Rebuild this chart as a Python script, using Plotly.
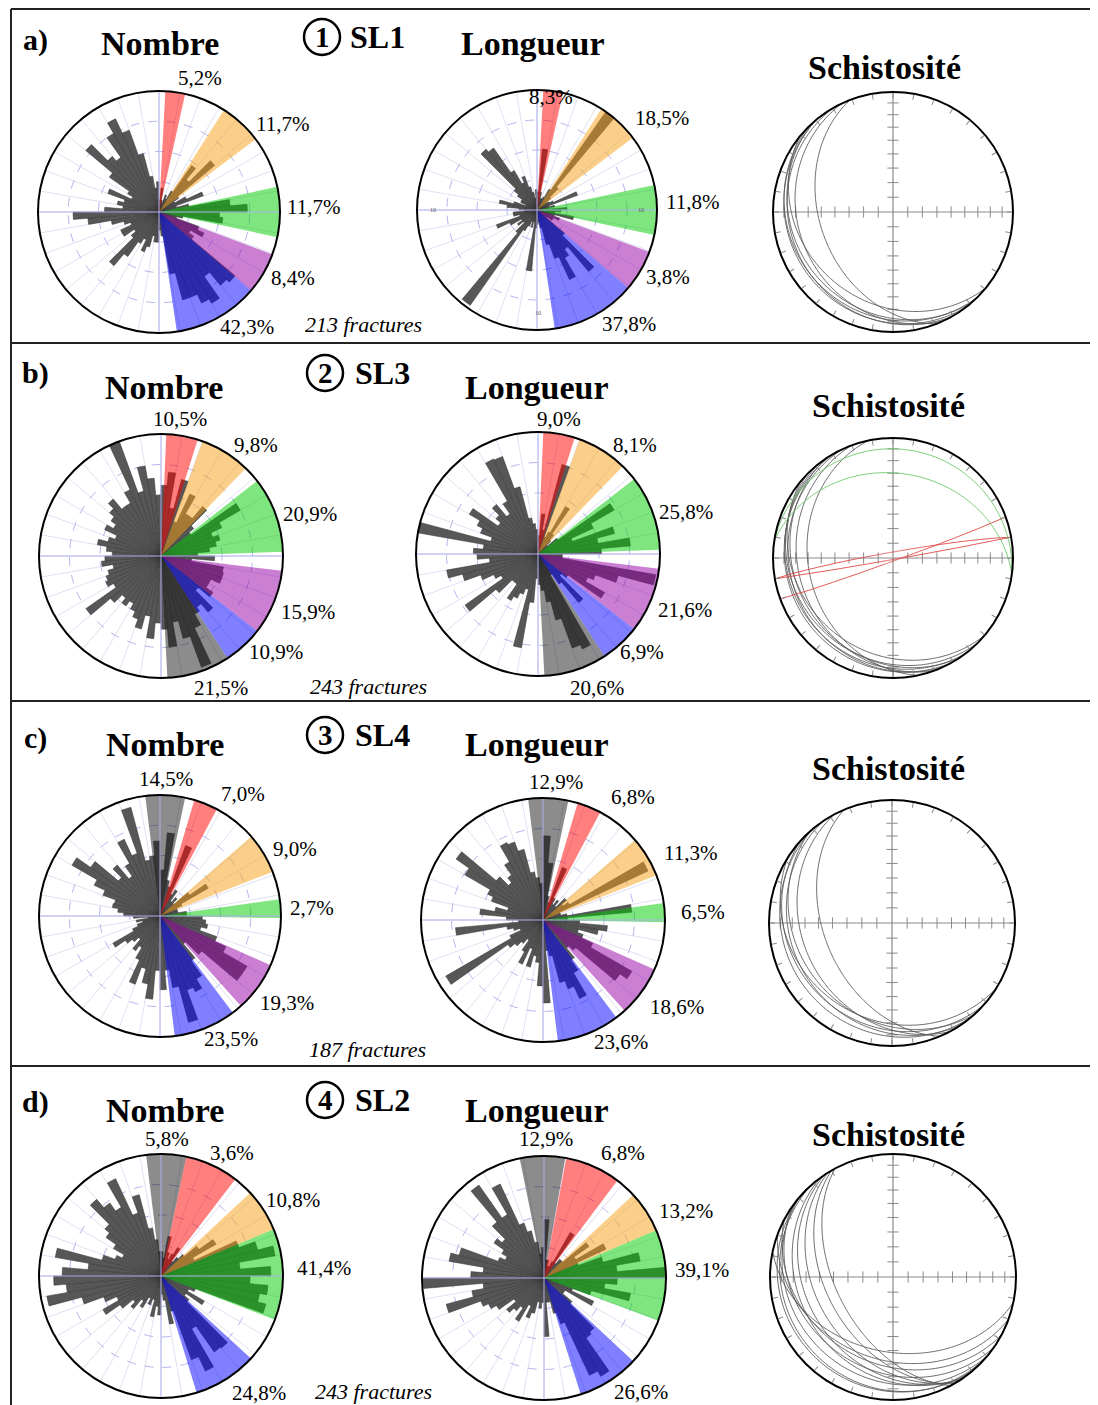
import math
import plotly.graph_objects as go

# page is 1098x1405; the html body adds an 8 px margin, so the figure is 8 px smaller
# and every page position below is shifted by that margin
PAGE_OFF = 8
W, H = 1098 - PAGE_OFF, 1405 - PAGE_OFF
SERIF = "Liberation Serif"

# ---------------- rose diagram data (5 degree bins, value in ring units, max 10) -------------
BIN_CENTERS = [2.5 + 5 * i for i in range(72)]
RMAX = 10

A_NOMBRE = [
    1.0, 2.0, 1.0, 0.8, 1.5, 1.2, 2.0, 4.7,
    3.5, 6.0, 2.0, 1.5, 2.5, 3.9, 1.5, 2.5,
    5.9, 7.3, 5.0, 5.3, 2.0, 1.5, 3.5, 4.1,
    3.0, 3.5, 8.2, 7.9, 6.5, 8.7, 8.3, 7.5,
    7.5, 5.2, 2.0, 1.5, 2.5, 2.5, 2.0, 3.0,
    3.5, 2.5, 3.0, 4.5, 5.8, 3.0, 2.5, 3.5,
    3.5, 2.5, 3.0, 4.0, 5.9, 7.1, 4.5, 3.0,
    3.5, 3.0, 4.5, 2.5, 3.0, 5.0, 7.9, 6.0,
    5.5, 7.5, 8.5, 7.2, 5.0, 3.0, 2.0, 2.5,
]
A_LONGUEUR = [
    1.5, 5.1, 1.5, 1.0, 1.0, 1.2, 2.0, 10.0,
    2.5, 1.5, 1.0, 1.2, 1.5, 3.6, 1.0, 1.5,
    1.0, 2.5, 2.0, 1.5, 3.1, 1.5, 2.0, 1.5,
    1.5, 1.0, 3.0, 6.7, 4.0, 4.6, 6.4, 4.3,
    3.0, 1.5, 1.0, 1.2, 1.5, 5.1, 1.0, 1.5,
    1.0, 1.5, 2.0, 9.7, 2.5, 1.5, 2.0, 1.5,
    2.5, 3.6, 1.5, 2.0, 2.0, 1.0, 1.5, 2.5,
    3.2, 2.0, 1.0, 1.5, 1.5, 2.0, 2.5, 6.6,
    6.3, 3.8, 2.5, 3.0, 2.0, 1.5, 1.0, 1.7,
]
B_NOMBRE = [
    5.8, 6.9, 4.0, 6.5, 3.0, 5.6, 4.0, 4.0,
    5.3, 3.5, 3.0, 7.5, 5.5, 4.5, 5.0, 4.6,
    4.0, 3.0, 4.4, 2.5, 5.2, 5.3, 5.3, 4.5,
    4.5, 5.2, 4.0, 6.0, 5.1, 5.5, 6.5, 9.7,
    7.0, 5.5, 7.5, 6.0, 5.5, 6.8, 5.0, 6.2,
    5.5, 5.0, 4.5, 5.0, 4.5, 5.4, 7.5, 4.5,
    5.0, 4.8, 4.5, 4.0, 4.9, 4.6, 4.0, 4.5,
    5.3, 4.5, 4.0, 5.1, 4.5, 5.0, 5.5, 6.1,
    5.0, 5.0, 6.0, 10.0, 5.5, 7.5, 6.4, 5.0,
]
B_LONGUEUR = [
    1.5, 3.3, 2.0, 7.6, 1.5, 2.0, 4.5, 2.0,
    1.5, 1.0, 2.0, 7.2, 5.0, 3.0, 6.5, 5.0,
    7.6, 5.2, 2.0, 2.0, 9.8, 6.8, 5.0, 4.5,
    6.3, 3.0, 2.5, 5.2, 3.0, 2.0, 8.6, 8.2,
    5.6, 4.0, 3.0, 2.5, 2.0, 4.0, 7.8, 3.0,
    3.5, 4.0, 4.4, 3.0, 3.0, 4.5, 7.3, 3.5,
    4.0, 5.0, 6.4, 7.6, 4.0, 5.0, 5.3, 4.5,
    10.0, 4.0, 5.0, 5.5, 6.5, 4.0, 4.5, 5.3,
    4.0, 5.0, 8.6, 8.5, 5.7, 3.0, 2.5, 2.0,
]
C_NOMBRE = [
    3.8, 6.9, 3.0, 2.5, 6.2, 2.0, 2.5, 1.5,
    2.0, 1.5, 3.0, 4.6, 2.0, 1.5, 1.5, 1.5,
    2.2, 2.2, 3.5, 3.8, 4.0, 3.5, 5.0, 6.0,
    8.3, 8.3, 4.5, 3.0, 4.5, 6.0, 6.9, 6.5,
    9.1, 6.0, 4.5, 6.1, 4.5, 6.9, 5.7, 4.5,
    6.0, 4.0, 3.0, 3.5, 2.5, 3.0, 3.5, 4.5,
    2.5, 2.0, 1.5, 2.0, 1.0, 2.2, 3.0, 3.5,
    4.0, 3.9, 5.0, 6.0, 8.4, 7.0, 4.5, 5.5,
    4.0, 5.0, 7.0, 5.5, 9.3, 4.7, 5.0, 6.2,
]
C_LONGUEUR = [
    6.9, 4.7, 2.0, 1.5, 4.6, 2.0, 1.5, 2.0,
    1.5, 2.5, 2.0, 2.5, 9.5, 1.5, 1.5, 2.0,
    7.3, 2.0, 3.0, 5.3, 4.6, 3.0, 3.5, 4.5,
    8.4, 7.7, 3.5, 3.0, 4.0, 5.0, 7.1, 6.0,
    5.3, 3.0, 2.5, 6.8, 5.4, 3.5, 3.0, 4.0,
    2.5, 4.0, 3.0, 2.0, 2.5, 3.0, 3.5, 9.2,
    3.0, 2.0, 2.5, 3.0, 7.2, 2.0, 3.0, 5.2,
    4.0, 3.0, 4.5, 5.0, 7.4, 8.7, 5.0, 4.0,
    4.5, 5.5, 7.0, 6.8, 6.0, 4.0, 3.5, 3.0,
]
D_NOMBRE = [
    2.0, 1.5, 3.3, 2.0, 1.5, 2.0, 2.7, 1.5,
    2.0, 2.5, 3.8, 5.2, 3.0, 6.8, 8.2, 9.5,
    6.5, 9.0, 7.3, 8.8, 8.2, 8.9, 3.0, 2.5,
    4.1, 2.5, 3.0, 7.7, 7.6, 5.0, 8.6, 7.3,
    3.0, 4.0, 2.0, 1.5, 3.2, 2.5, 3.4, 2.0,
    2.5, 2.0, 3.0, 2.5, 3.5, 3.0, 4.1, 5.5,
    4.0, 5.0, 6.7, 9.5, 7.8, 8.8, 8.1, 6.0,
    8.8, 5.0, 4.0, 3.5, 4.5, 5.5, 6.0, 8.2,
    7.3, 6.5, 8.8, 5.5, 6.9, 4.0, 3.0, 2.0,
]
D_LONGUEUR = [
    4.8, 1.5, 1.5, 1.0, 1.0, 1.5, 4.3, 1.5,
    2.0, 2.0, 4.5, 3.0, 5.6, 3.0, 5.0, 8.0,
    6.0, 10.0, 6.0, 5.0, 7.2, 4.0, 2.5, 4.5,
    2.0, 2.0, 3.0, 5.8, 6.0, 9.3, 8.8, 4.0,
    3.0, 2.0, 2.0, 4.8, 2.0, 2.5, 2.0, 3.0,
    3.5, 2.5, 4.1, 3.0, 3.5, 4.0, 3.0, 4.5,
    5.0, 5.5, 8.3, 6.0, 5.0, 9.9, 6.0, 5.0,
    7.9, 7.2, 4.0, 3.5, 4.0, 5.0, 4.5, 6.0,
    9.3, 6.0, 8.5, 4.8, 4.0, 3.0, 2.0, 2.5,
]

# ---------------- highlighted families (azimuth sectors) ----------------
A_SECT_START = [3, 32.5, 78, 110.5, 130.5]
A_SECT_END = [12.5, 53, 102, 130.5, 171.5]
A_SECT_KIND = ["red", "orange", "green", "purple", "blue"]
A_NOMBRE_PCT = ["5,2%", "11,7%", "11,7%", "8,4%", "42,3%"]
A_LONGUEUR_PCT = ["8,3%", "18,5%", "11,8%", "3,8%", "37,8%"]

B_SECT_START = [2.5, 20, 52, 97, 128, 147]
B_SECT_END = [17.5, 44, 88, 128, 147, 177]
B_SECT_KIND = ["red", "orange", "green", "purple", "blue", "gray"]
B_NOMBRE_PCT = ["10,5%", "9,8%", "20,9%", "15,9%", "10,9%", "21,5%"]
B_LONGUEUR_PCT = ["9,0%", "8,1%", "25,8%", "21,6%", "6,9%", "20,6%"]

C_SECT_START = [-7, 16.5, 49, 82, 114, 143]
C_SECT_END = [12, 28, 68.5, 91, 138, 173]
C_SECT_KIND = ["gray", "red", "orange", "green", "purple", "blue"]
C_NOMBRE_PCT = ["14,5%", "7,0%", "9,0%", "2,7%", "19,3%", "23,5%"]
C_LONGUEUR_PCT = ["12,9%", "6,8%", "11,3%", "6,5%", "18,6%", "23,6%"]

D_NOMBRE_SECT_START = [-7, 12, 47, 67.5, 132.5]
D_NOMBRE_SECT_END = [12, 37.5, 67.5, 111, 163]
D_LONGUEUR_SECT_START = [-11.5, 10.5, 47, 67, 133]
D_LONGUEUR_SECT_END = [10, 37, 67, 110.5, 162.5]
D_SECT_KIND = ["gray", "red", "orange", "green", "blue"]
D_NOMBRE_PCT = ["5,8%", "3,6%", "10,8%", "41,4%", "24,8%"]
D_LONGUEUR_PCT = ["12,9%", "6,8%", "13,2%", "39,1%", "26,6%"]

N_FRACTURES = ["213 fractures", "243 fractures", "187 fractures", "243 fractures"]
ROW_LETTERS = ["a)", "b)", "c)", "d)"]
SITE_NUMBERS = ["1", "2", "3", "4"]
SITE_NAMES = ["SL1", "SL3", "SL4", "SL2"]

# ---------------- schistosity planes (dip direction, dip) ----------------
A_SCH_DIPDIR = [249, 245, 240, 232, 225, 219, 228]
A_SCH_DIP = [39, 22, 15, 13, 15, 25, 18]
B_SCH_DIPDIR = [258, 250, 245, 240, 232, 225, 220, 236]
B_SCH_DIP = [30, 22, 15, 12, 14, 17, 22, 19]
B_GREEN_DIPDIR = [8, 8]
B_GREEN_DIP = [10, 30]
B_RED_DIPDIR = [160, 350, 170]
B_RED_DIP = [88, 86, 89]
C_SCH_DIPDIR = [247, 242, 236, 230, 222, 212, 228]
C_SCH_DIP = [44, 28, 19, 13, 18, 22, 24]
D_SCH_DIPDIR = [242, 240, 238, 236, 234, 228, 222, 192, 215, 208, 220, 200]
D_SCH_DIP = [52, 45, 37, 30, 25, 12, 10, 39, 25, 30, 18, 33]
# Schmidt-net graduation radii (10 deg steps)
NET_TICK_R = [0.123, 0.245, 0.366, 0.484, 0.598, 0.707, 0.811, 0.909]

# ---------------- styles ----------------
SECTOR_COLORS = {
    "red": "rgba(255,0,0,0.5)",
    "orange": "rgba(248,160,20,0.5)",
    "green": "rgba(0,205,0,0.5)",
    "purple": "rgba(150,0,165,0.5)",
    "blue": "rgba(0,0,255,0.5)",
    "gray": "rgba(25,25,25,0.5)",
}

fig = go.Figure()
polars = {}
annotations = []
shapes = []


def X(x):
    return (x - PAGE_OFF) / W


def Y(y):
    return 1 - (y - PAGE_OFF) / H


def pname(i):
    return "polar" if i == 1 else f"polar{i}"


def domain(cx, cy, R):
    return dict(x=[X(cx - R), X(cx + R)], y=[Y(cy + R), Y(cy - R)])


def txt(x, y, s, size, bold=False, italic=False, color="black"):
    if bold:
        s = f"<b>{s}</b>"
    if italic:
        s = f"<i>{s}</i>"
    annotations.append(dict(x=X(x), y=Y(y), xref="paper", yref="paper", text=s,
                            showarrow=False, xanchor="center", yanchor="middle",
                            font=dict(family=SERIF, size=size, color=color)))


def add_rose(idx, geom, bars, starts, ends, kinds, pcts, label_pos):
    name = pname(idx)
    cx, cy, R = geom
    polars[name] = dict(
        domain=domain(cx, cy, R), bgcolor="white", barmode="overlay", bargap=0,
        angularaxis=dict(rotation=90, direction="clockwise", tickmode="linear", tick0=0, dtick=10,
                         showticklabels=False, ticks="", showgrid=True, gridcolor="#e0e0f3",
                         gridwidth=1, showline=True, linecolor="black", linewidth=2),
        radialaxis=dict(range=[0, RMAX], tickvals=[2.5, 5, 7.5], showticklabels=False, ticks="",
                        showline=False, showgrid=True, gridcolor="#b6b6ee", griddash="dash",
                        gridwidth=1),
    )
    for th in ([0, 0, 180], [90, 90, 270]):
        fig.add_trace(go.Scatterpolar(r=[RMAX, 0, RMAX], theta=th, mode="lines",
                                      line=dict(color="#b4b4f0", width=1), subplot=name,
                                      showlegend=False, hoverinfo="skip"))
    fig.add_trace(go.Barpolar(r=bars, theta=BIN_CENTERS, width=[5] * len(bars), subplot=name,
                              marker=dict(color="#575757", line=dict(color="#333333", width=0.5)),
                              showlegend=False, hoverinfo="skip"))
    for a, b, k in zip(starts, ends, kinds):
        fig.add_trace(go.Barpolar(r=[RMAX], theta=[(a + b) / 2], width=[b - a], subplot=name,
                                  marker=dict(color=SECTOR_COLORS[k], line=dict(width=0)),
                                  showlegend=False, hoverinfo="skip"))
    for s, (x, y) in zip(pcts, label_pos):
        txt(x, y, s, 21)


def great_circle(dd, dip):
    th, rr = [], []
    for k in range(0, 181):
        t = dd - 90 + k
        p = math.degrees(math.atan(math.tan(math.radians(dip)) * math.cos(math.radians(t - dd))))
        rr.append(math.sqrt(2) * math.sin(math.radians((90 - p) / 2)))
        th.append(t)
    return th, rr


def add_stereo(idx, geom, families):
    name = pname(idx)
    cx, cy, R = geom
    polars[name] = dict(
        domain=domain(cx, cy, R), bgcolor="white",
        angularaxis=dict(rotation=90, direction="clockwise", tickmode="linear", tick0=0, dtick=10,
                         showticklabels=False, ticks="inside", ticklen=5, tickcolor="#8a8a8a",
                         tickwidth=1, showgrid=False, showline=True, linecolor="black", linewidth=2),
        radialaxis=dict(range=[0, 1], visible=False),
    )
    for th in ([0, 0, 180], [90, 90, 270]):
        fig.add_trace(go.Scatterpolar(r=[1, 0, 1], theta=th, mode="lines",
                                      line=dict(color="#8a8a8a", width=1.2), subplot=name,
                                      showlegend=False, hoverinfo="skip"))
    fig.add_trace(go.Scatterpolar(r=NET_TICK_R * 2, theta=[90] * 8 + [270] * 8, mode="markers",
                                  marker=dict(symbol="line-ns", size=8, line=dict(color="#8a8a8a", width=1)),
                                  subplot=name, showlegend=False, hoverinfo="skip"))
    fig.add_trace(go.Scatterpolar(r=NET_TICK_R * 2, theta=[0] * 8 + [180] * 8, mode="markers",
                                  marker=dict(symbol="line-ew", size=8, line=dict(color="#8a8a8a", width=1)),
                                  subplot=name, showlegend=False, hoverinfo="skip"))
    for dds, dips, col in families:
        for dd, dip in zip(dds, dips):
            th, rr = great_circle(dd, dip)
            fig.add_trace(go.Scatterpolar(r=rr, theta=th, mode="lines",
                                          line=dict(color=col, width=0.9), subplot=name,
                                          showlegend=False, hoverinfo="skip"))


GRAY_LINE = "#5a5a5a"

# ---------------- row a ----------------
add_rose(1, (159, 212, 121), A_NOMBRE, A_SECT_START, A_SECT_END, A_SECT_KIND, A_NOMBRE_PCT,
         [(200, 78), (282, 124), (313, 207), (293, 278), (247, 327)])
add_rose(2, (537, 210, 120), A_LONGUEUR, A_SECT_START, A_SECT_END, A_SECT_KIND, A_LONGUEUR_PCT,
         [(551, 97), (662, 118), (692, 202), (668, 277), (629, 324)])
add_stereo(3, (893, 212, 120), [(A_SCH_DIPDIR, A_SCH_DIP, GRAY_LINE)])

# ---------------- row b ----------------
add_rose(4, (161, 556, 122), B_NOMBRE, B_SECT_START, B_SECT_END, B_SECT_KIND, B_NOMBRE_PCT,
         [(180, 419), (256, 445), (310, 514), (308, 612), (276, 652), (221, 688)])
add_rose(5, (538, 554, 122), B_LONGUEUR, B_SECT_START, B_SECT_END, B_SECT_KIND, B_LONGUEUR_PCT,
         [(559, 419), (635, 445), (686, 512), (685, 610), (642, 652), (597, 688)])
add_stereo(6, (893, 558, 120), [(B_SCH_DIPDIR, B_SCH_DIP, GRAY_LINE),
                                (B_GREEN_DIPDIR, B_GREEN_DIP, "#66c766"),
                                (B_RED_DIPDIR, B_RED_DIP, "#e04848")])

# ---------------- row c ----------------
add_rose(7, (160, 916, 121), C_NOMBRE, C_SECT_START, C_SECT_END, C_SECT_KIND, C_NOMBRE_PCT,
         [(166, 779), (243, 794), (295, 849), (312, 908), (287, 1003), (231, 1039)])
add_rose(8, (543, 920, 122), C_LONGUEUR, C_SECT_START, C_SECT_END, C_SECT_KIND, C_LONGUEUR_PCT,
         [(556, 782), (633, 797), (690, 853), (703, 912), (677, 1007), (621, 1042)])
add_stereo(9, (892, 923, 123), [(C_SCH_DIPDIR, C_SCH_DIP, GRAY_LINE)])

# ---------------- row d ----------------
add_rose(10, (161, 1276, 122), D_NOMBRE, D_NOMBRE_SECT_START, D_NOMBRE_SECT_END, D_SECT_KIND,
         D_NOMBRE_PCT, [(167, 1139), (232, 1153), (293, 1200), (324, 1268), (259, 1393)])
add_rose(11, (544, 1278, 122), D_LONGUEUR, D_LONGUEUR_SECT_START, D_LONGUEUR_SECT_END, D_SECT_KIND,
         D_LONGUEUR_PCT, [(546, 1139), (623, 1153), (686, 1211), (702, 1270), (641, 1392)])
add_stereo(12, (893, 1277, 123), [(D_SCH_DIPDIR, D_SCH_DIP, GRAY_LINE)])

# ---------------- headings ----------------
TITLE_POS = [  # letter, Nombre, circle, site, Longueur, Schistosite
    ((35, 40), (160, 43), (322, 37), (377, 37), (533, 44), (884, 68)),
    ((35, 373), (164, 387), (325, 373), (382, 373), (537, 387), (888, 405)),
    ((35, 738), (165, 744), (325, 735), (382, 735), (537, 745), (888, 768)),
    ((35, 1102), (165, 1110), (325, 1100), (382, 1100), (537, 1110), (888, 1134)),
]
for i, (lp, np_, cp, sp, lo, sc) in enumerate(TITLE_POS):
    txt(*lp, ROW_LETTERS[i], 30, bold=True)
    txt(*np_, "Nombre", 34, bold=True)
    txt(*cp, SITE_NUMBERS[i], 29, bold=True)
    txt(*sp, SITE_NAMES[i], 32, bold=True)
    txt(*lo, "Longueur", 34, bold=True)
    txt(*sc, "Schistosité", 34, bold=True)
    r = 18
    shapes.append(dict(type="circle", xref="paper", yref="paper",
                       x0=X(cp[0] - r), x1=X(cp[0] + r),
                       y0=Y(cp[1] + r), y1=Y(cp[1] - r),
                       line=dict(color="black", width=2.5)))

FRACT_POS = [(363, 324), (368, 686), (367, 1049), (373, 1391)]
for s, p in zip(N_FRACTURES, FRACT_POS):
    txt(*p, s, 22, italic=True)

# tiny ring labels of the first length diagram
for (x, y) in [(433, 210), (641, 210), (538, 313)]:
    txt(x, y, "10", 6, color="#555555")

# ---------------- panel frame ----------------
FRAME = "#222222"
for yy in [9, 343, 701, 1066]:
    shapes.append(dict(type="line", xref="paper", yref="paper", x0=X(11), x1=X(1095),
                       y0=Y(yy), y1=Y(yy), line=dict(color=FRAME, width=2)))
for xx in [11, 1095]:
    shapes.append(dict(type="line", xref="paper", yref="paper", x0=X(xx), x1=X(xx),
                       y0=0, y1=Y(9), line=dict(color=FRAME, width=2)))

fig.update_layout(width=W, height=H, margin=dict(l=0, r=0, t=0, b=0),
                  paper_bgcolor="white", plot_bgcolor="white", showlegend=False,
                  annotations=annotations, shapes=shapes, **polars)
fig.write_html("out.html")
